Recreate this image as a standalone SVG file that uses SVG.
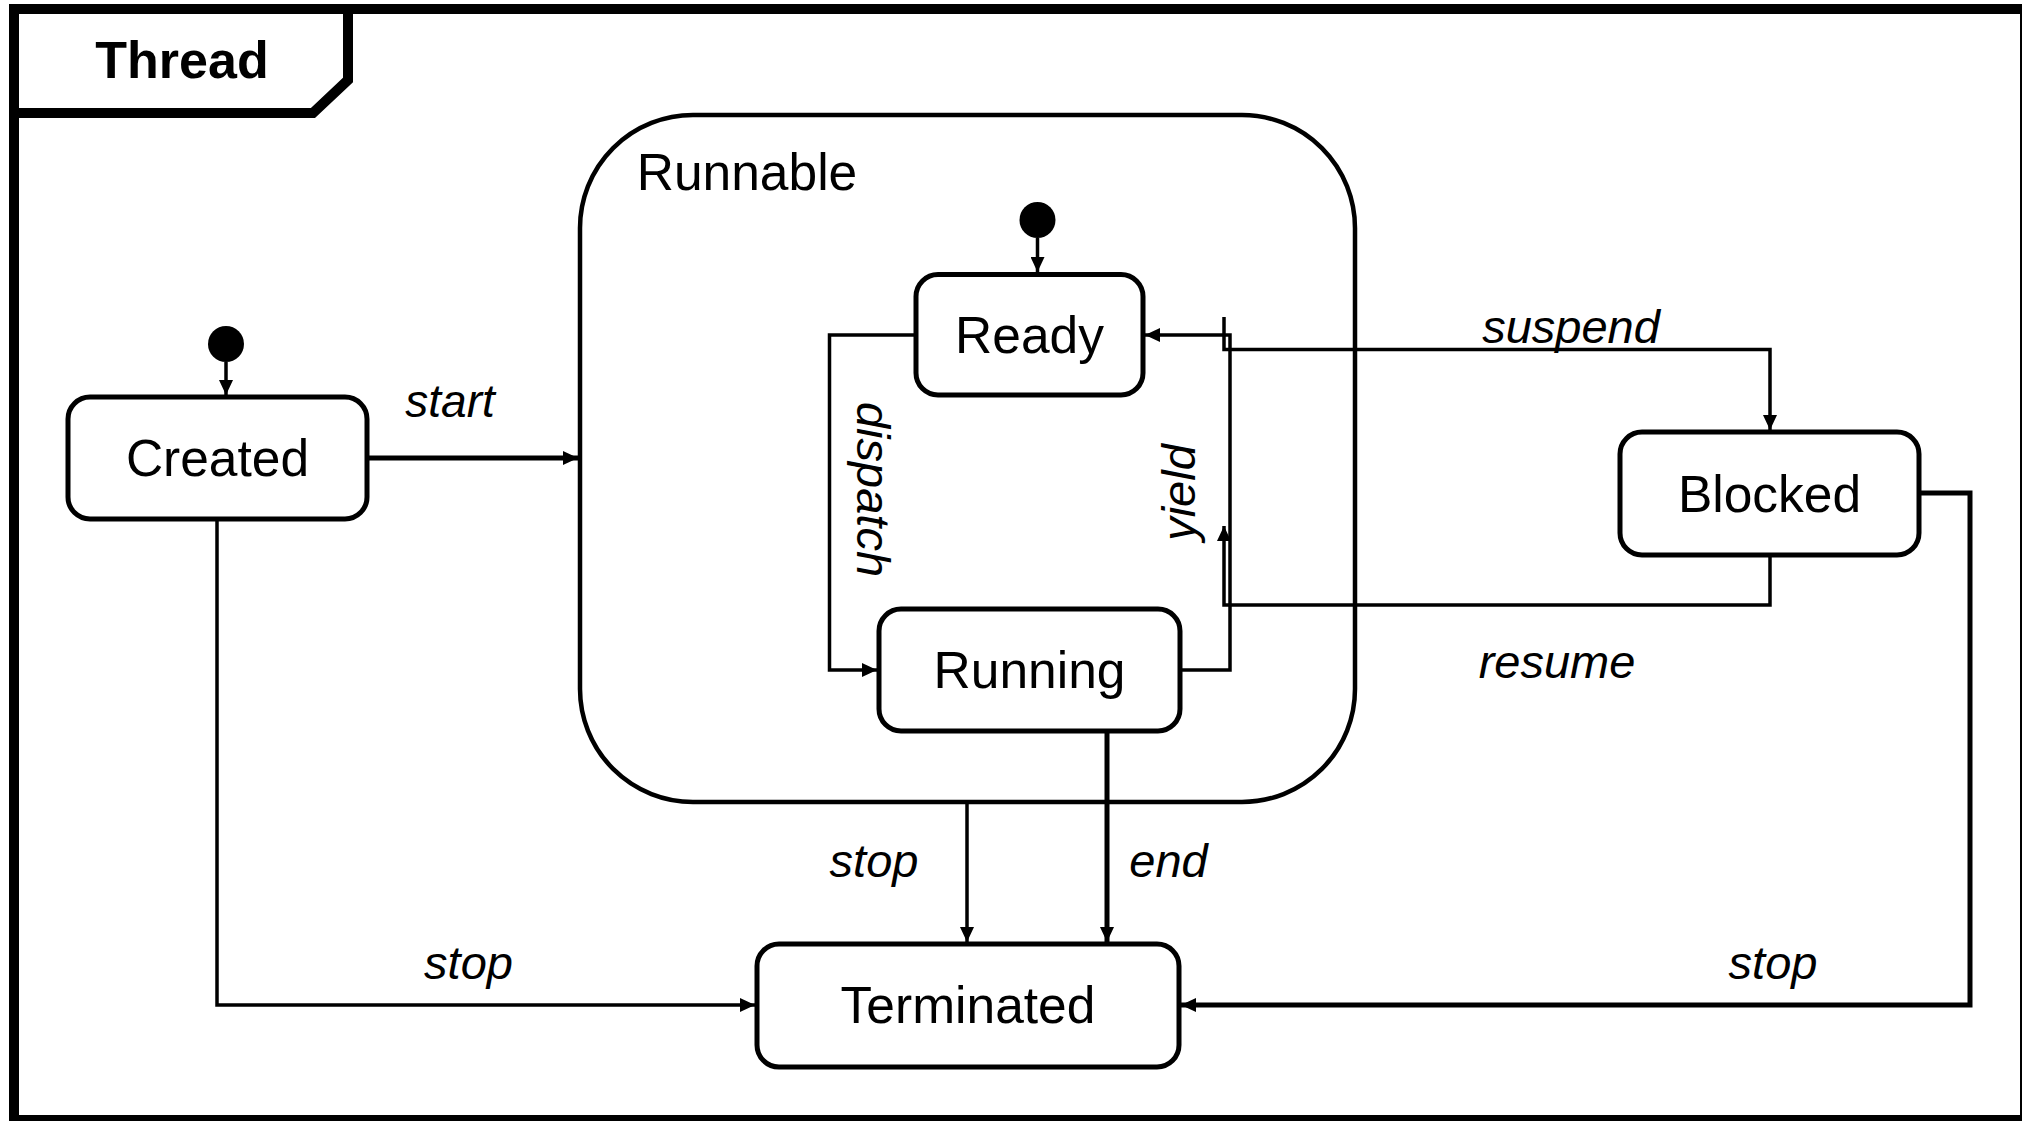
<svg xmlns="http://www.w3.org/2000/svg" width="2022" height="1121" viewBox="0 0 2022 1121">
  <style>
    .frame { fill: none; stroke: #000; stroke-width: 10; }
    .state { fill: #fff; stroke: #000; stroke-width: 5; }
    .composite { fill: #fff; stroke: #000; stroke-width: 4.5; }
    .init { fill: #000; }
    .edge { fill: none; stroke: #000; stroke-width: 3.5; }
    .edge-b { fill: none; stroke: #000; stroke-width: 5; }
    .name { font-family: "Liberation Sans", Arial, sans-serif; font-size: 51.5px; text-anchor: middle; fill: #000; }
    .title { font-family: "Liberation Sans", Arial, sans-serif; font-size: 52px; font-weight: bold; text-anchor: middle; fill: #000; }
    .lbl { font-family: "Liberation Sans", Arial, sans-serif; font-size: 47px; font-style: italic; text-anchor: middle; fill: #000; }
  </style>
  <defs>
    <marker id="arrow" markerUnits="userSpaceOnUse" markerWidth="16" markerHeight="14" refX="15" refY="7" orient="auto">
      <path d="M0,0 L15,7 L0,14 Z" fill="#000"/>
    </marker>
  </defs>

  <rect width="2022" height="1121" fill="#fff"/>

  <!-- state machine frame with name tab -->
  <g id="frame">
    <rect class="frame" x="14" y="9" width="2011" height="1111"/>
    <polyline class="frame" points="14,113 313,113 348,80 348,9"/>
    <text class="title" x="182" y="78">Thread</text>
  </g>

  <!-- composite state -->
  <g id="runnable">
    <rect class="composite" x="580" y="115" width="775" height="687" rx="113" ry="113"/>
    <text class="name" x="747" y="190">Runnable</text>
  </g>

  <!-- initial pseudostates -->
  <g id="init-outer"><circle class="init" cx="226" cy="344" r="18"/></g>
  <g id="init-inner"><circle class="init" cx="1037.5" cy="220" r="18"/></g>

  <!-- simple states -->
  <g id="created">
    <rect class="state" x="68" y="397" width="299" height="122" rx="22" ry="22"/>
    <text class="name" x="217.5" y="476">Created</text>
  </g>
  <g id="ready">
    <rect class="state" x="916" y="274.5" width="227" height="120.5" rx="22" ry="22"/>
    <text class="name" x="1029.5" y="353">Ready</text>
  </g>
  <g id="running">
    <rect class="state" x="879" y="609" width="301" height="122" rx="22" ry="22"/>
    <text class="name" x="1029.5" y="688">Running</text>
  </g>
  <g id="blocked">
    <rect class="state" x="1620" y="432" width="299" height="123" rx="22" ry="22"/>
    <text class="name" x="1769.5" y="512">Blocked</text>
  </g>
  <g id="terminated">
    <rect class="state" x="757" y="944" width="422" height="123" rx="22" ry="22"/>
    <text class="name" x="968" y="1023">Terminated</text>
  </g>

  <!-- transitions -->
  <g id="connectors">
    <line class="edge" x1="226" y1="362" x2="226" y2="395" marker-end="url(#arrow)"/>
    <line class="edge" x1="1037.5" y1="238" x2="1037.5" y2="272" marker-end="url(#arrow)"/>
    <!-- start -->
    <line class="edge-b" x1="367" y1="458" x2="578" y2="458" marker-end="url(#arrow)"/>
    <!-- dispatch -->
    <polyline class="edge" points="916,335 829.5,335 829.5,670 877,670" marker-end="url(#arrow)"/>
    <!-- yield -->
    <polyline class="edge" points="1180,670 1230,670 1230,335 1145,335" marker-end="url(#arrow)"/>
    <!-- suspend -->
    <polyline class="edge" points="1224,317 1224,349.5 1770,349.5 1770,430" marker-end="url(#arrow)"/>
    <!-- resume -->
    <polyline class="edge" points="1770,555 1770,605 1224,605 1224,526" marker-end="url(#arrow)"/>
    <!-- stop from Runnable -->
    <line class="edge" x1="967" y1="802" x2="967" y2="942" marker-end="url(#arrow)"/>
    <!-- end -->
    <line class="edge-b" x1="1107" y1="731" x2="1107" y2="942" marker-end="url(#arrow)"/>
    <!-- stop from Created -->
    <polyline class="edge" points="217,519 217,1005 755,1005" marker-end="url(#arrow)"/>
    <!-- stop from Blocked -->
    <polyline class="edge-b" points="1919,493 1970,493 1970,1005 1181,1005" marker-end="url(#arrow)"/>
  </g>

  <!-- transition labels -->
  <g id="labels">
    <text class="lbl" x="450" y="417" style="font-size:46px">start</text>
    <text class="lbl" transform="translate(857,489.5) rotate(90)">dispatch</text>
    <text class="lbl" transform="translate(1195,492.5) rotate(-90)">yield</text>
    <text class="lbl" x="1571" y="343">suspend</text>
    <text class="lbl" x="1557" y="678">resume</text>
    <text class="lbl" x="874" y="877">stop</text>
    <text class="lbl" x="1168.5" y="877">end</text>
    <text class="lbl" x="468.5" y="979">stop</text>
    <text class="lbl" x="1773" y="979">stop</text>
  </g>
</svg>
